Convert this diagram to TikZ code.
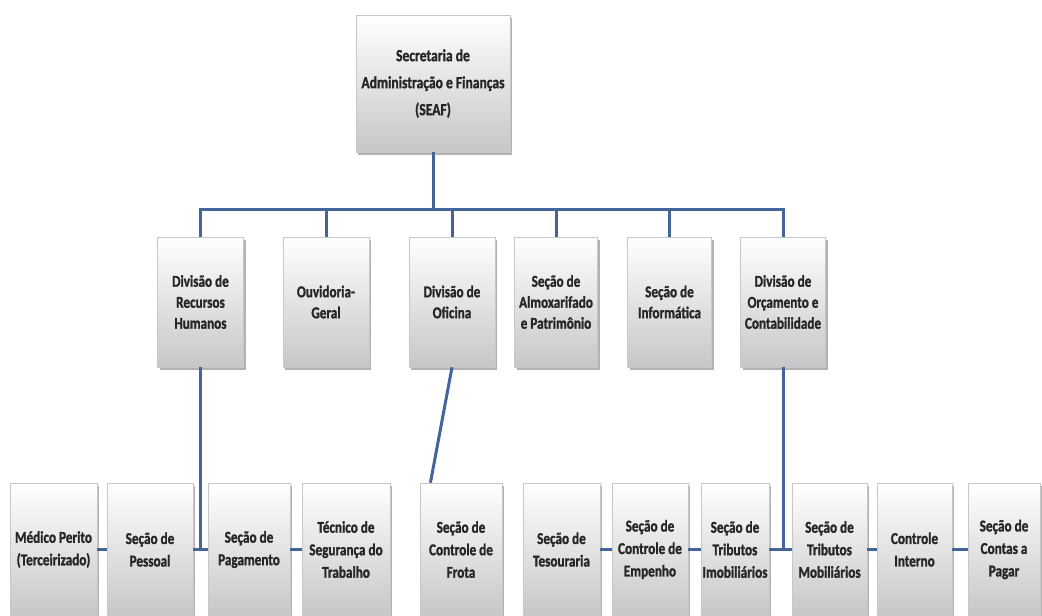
\documentclass[tikz,border=0pt]{standalone}
\usepackage{fontspec}
\setmainfont{Carlito}[FakeStretch=0.8, BoldFeatures={FakeBold=1.3}]
\usetikzlibrary{shadows,calc}
\definecolor{linkblue}{HTML}{44659A}

\begin{document}
\begin{tikzpicture}[x=1pt, y=-1pt,
    orgbox/.style = {inner sep=0pt, align=center,
    font=\bfseries\fontsize{16.5}{21}\selectfont, text=black!85,
    draw=black!22, line width=0.6pt,
    top color=white, bottom color=black!22,
    drop shadow={shadow xshift=2pt, shadow yshift=-2.5pt, fill=black!50, opacity=0.6}},
    midbox/.style = {orgbox, minimum width=86pt, minimum height=130pt},
    lowbox/.style = {orgbox, minimum height=133pt,
    font=\bfseries\fontsize{16.5}{22.5}\selectfont},
    link/.style = {draw=linkblue, line width=3pt}
    ]
    \path[use as bounding box, fill=white] (0,0) rectangle (1042,616);

    % top
    \node[orgbox, minimum width=154pt, minimum height=137pt,
      font=\bfseries\fontsize{17}{27}\selectfont] (seaf) at (433,83.5)
      {Secretaria de\\Administração e Finanças\\(SEAF)};

    % middle row
    \node[midbox] (rh)  at (200.5,302) {Divisão de\\Recursos\\Humanos};
    \node[midbox] (ouv) at (326,302)   {Ouvidoria-\\Geral};
    \node[midbox] (ofi) at (452,302)   {Divisão de\\Oficina};
    \node[midbox, minimum width=83pt] (alm) at (556,302) {Seção de\\Almoxarifado\\e Patrimônio};
    \node[midbox, minimum width=84pt] (inf) at (669.5,302) {Seção de\\Informática};
    \node[midbox, minimum width=85pt] (orc) at (783,302) {Divisão de\\Orçamento e\\Contabilidade};

    % bottom row
    \node[lowbox, minimum width=87pt] (med)    at (53.5,549.5)  {Médico Perito\\(Terceirizado)};
    \node[lowbox, minimum width=86pt] (pes)    at (150,549.5)   {Seção de\\Pessoal};
    \node[lowbox, minimum width=82pt] (pag)    at (249,549.5)   {Seção de\\Pagamento};
    \node[lowbox, minimum width=88pt] (tec)    at (346,549.5)   {Técnico de\\Segurança do\\Trabalho};
    \node[lowbox, minimum width=82pt] (frota)  at (461,549.5)   {Seção de\\Controle de\\Frota};
    \node[lowbox, minimum width=77pt] (tes)    at (561.5,549.5) {Seção de\\Tesouraria};
    \node[lowbox, minimum width=76pt] (emp)    at (650,549.5)   {Seção de\\Controle de\\Empenho};
    \node[lowbox, minimum width=68pt] (imob)   at (735,549.5)   {Seção de\\Tributos\\Imobiliários};
    \node[lowbox, minimum width=75pt] (mob)    at (829.5,549.5) {Seção de\\Tributos\\Mobiliários};
    \node[lowbox, minimum width=75pt] (ci)     at (914.5,549.5) {Controle\\Interno};
    \node[lowbox, minimum width=72pt] (contas) at (1004,549.5)  {Seção de\\Contas a\\Pagar};

    % connectors
    \coordinate (bus) at (433,209);
    \draw[link] (seaf.south) -- (bus);
    \draw[link] (rh.north) |- (bus) -| (orc.north);
    \foreach \n in {ouv, ofi, alm, inf}
      \draw[link] (\n.north) -- (\n.north |- bus);

    \draw[link] (rh.south) -- (rh.south |- pag.west);
    \coordinate (frotatop) at ($(frota.north west)!0.13!(frota.north east)$);
    \draw[link] (ofi.south) -- (frotatop);
    \draw[link] (orc.south) -- (orc.south |- imob.east);
    \foreach \a/\b in {med/pes, pes/pag, pag/tec, tes/emp, emp/imob,
      imob/mob, mob/ci, ci/contas}
      \draw[link] (\a.east) -- (\b.west);
\end{tikzpicture}
\end{document}
